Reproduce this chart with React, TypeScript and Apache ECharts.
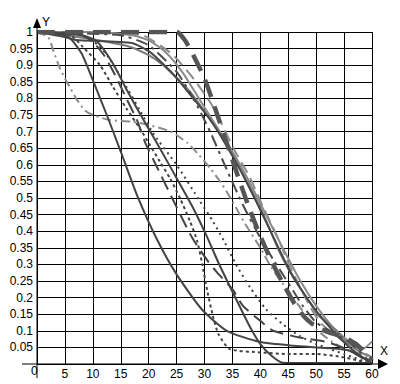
import React, { useEffect, useRef } from "react";
import * as echarts from "echarts";

type P = [number, number];

const xTicks = [0, 5, 10, 15, 20, 25, 30, 35, 40, 45, 50, 55, 60];

const thickDash: P[] = [[0,1],[10,1],[20,1],[25,1],[26.5,0.975],[28,0.93],[30,0.86],[32,0.765],[34,0.665],[36,0.565],[38,0.47],[40,0.385],[42,0.31],[44,0.245],[46,0.185],[48,0.14],[50,0.112],[52,0.097],[55,0.08],[57,0.062],[59,0.03],[60,0.01]];
const solidA: P[] = [[0,1],[4,0.995],[6,0.98],[8,0.935],[10,0.855],[12.5,0.75],[15,0.64],[18,0.505],[21.5,0.375],[25,0.27],[29.5,0.165],[34,0.1],[40,0.066],[46,0.055],[52,0.048],[56,0.04],[60,0.003]];
const solidD: P[] = [[0,1],[8,0.99],[10.7,0.972],[13.6,0.905],[16.1,0.825],[18.4,0.755],[20.8,0.685],[24,0.59],[27.8,0.475],[30.4,0.385],[32.5,0.305],[34.5,0.235],[36.4,0.17],[38.2,0.11],[40,0.06],[42,0.025],[44,0.004],[50,0.003],[60,0.003]];
const dottedF: P[] = [[0,1],[6,0.99],[8.2,0.955],[11.3,0.9],[13.6,0.835],[16,0.77],[18.4,0.71],[20.2,0.66],[22,0.61],[23.8,0.56],[25.6,0.5],[27.4,0.43],[28.7,0.37],[29.6,0.3],[30.5,0.22],[31.5,0.145],[32.5,0.09],[34.5,0.045],[40,0.035],[45,0.03],[50,0.03],[55,0.02],[60,0]];
const dottedE: P[] = [[0,1],[8,0.99],[11,0.96],[13,0.92],[16,0.835],[18.4,0.765],[21,0.69],[25,0.6],[29.2,0.49],[31.5,0.43],[33.5,0.37],[35.8,0.295],[38.2,0.23],[41,0.165],[44,0.12],[47,0.085],[50,0.06],[55,0.03],[60,0]];
const longDashC: P[] = [[0,1],[8,0.99],[10,0.97],[12,0.93],[14,0.87],[16,0.8],[17.9,0.735],[19.3,0.67],[21.5,0.593],[24.2,0.5],[27.8,0.38],[30.6,0.31],[32.2,0.277],[35.1,0.223],[36.9,0.175],[40.5,0.123],[42.3,0.1],[47,0.08],[52,0.066],[56,0.04],[60,0]];
const solidUpper: P[] = [[0,1],[5,0.985],[7,0.976],[17,0.967],[20.2,0.94],[22.5,0.905],[25.1,0.86],[27.5,0.81],[30.4,0.75],[32.8,0.69],[36.4,0.584],[40,0.464],[42.6,0.373],[45,0.29],[47.5,0.22],[50,0.16],[53,0.1],[56,0.05],[60,0]];
const graySolid1: P[] = [[0,1],[5,0.99],[11,0.975],[16.7,0.955],[20,0.93],[22.6,0.9],[25.1,0.86],[27.4,0.82],[29.2,0.78],[31.5,0.725],[34,0.66],[37,0.57],[40,0.47],[41.7,0.405],[43.5,0.335],[45.9,0.26],[48.9,0.185],[50.2,0.15],[53.7,0.1],[55.5,0.065],[58,0.035],[60,0.02]];
const graySolid2: P[] = [[0,1],[10,1],[17,0.99],[20,0.975],[23,0.94],[26,0.88],[29,0.8],[32,0.72],[35,0.64],[38,0.55],[41,0.45],[44,0.35],[47,0.255],[50,0.175],[53,0.11],[55,0.08],[57,0.055],[58.5,0.047],[60,0.068]];
const grayLongDash: P[] = [[0,1],[10,1],[15,0.995],[19,0.99],[22.9,0.95],[24.7,0.925],[28,0.86],[31.5,0.775],[35.5,0.64],[38.2,0.56],[40.3,0.48],[43,0.385],[45,0.305],[47,0.235],[49,0.17],[51,0.12],[54,0.08],[57,0.05],[60,0.02]];
const grayDashDot: P[] = [[0,1],[2,0.985],[3,0.94],[4,0.895],[5,0.86],[6,0.83],[7,0.8],[8.5,0.765],[10,0.75],[13,0.735],[17,0.73],[20,0.72],[24,0.7],[27,0.665],[29,0.63],[31,0.59],[33,0.545],[35,0.49],[37,0.43],[40,0.35],[42,0.29],[45,0.22],[48,0.15],[50,0.105],[53,0.065],[56,0.04],[60,0.02]];
const darkDashDot: P[] = [[0,1],[15,0.99],[20,0.96],[25,0.88],[28,0.8],[31,0.7],[34,0.585],[37,0.475],[40,0.38],[42.3,0.315],[44.4,0.26],[45.9,0.22],[47.6,0.175],[50,0.125],[53,0.095],[56,0.065],[60,0]];

const LEFT = 37;
const TOP = 32;
const RIGHT = 28;
const BOTTOM = 20;

export default function App() {
  const ref = useRef<HTMLDivElement>(null);
  useEffect(() => {
    document.body.style.margin = "0";
    const chart = echarts.init(ref.current!, null, { renderer: "svg" });
    const font = "Liberation Sans, Arial, sans-serif";
    const mk = (data: P[], color: string, width: number, type: any, z = 2) => ({
      type: "line",
      data,
      showSymbol: false,
      smooth: 0.2,
      lineStyle: { color, width, type, cap: "butt" },
      z,
      silent: true,
    });
    const x0 = LEFT;
    const y0 = 384 - BOTTOM;
    const x1 = 400 - RIGHT;
    chart.setOption({
      animation: false,
      backgroundColor: "#fff",
      grid: { left: LEFT, top: TOP, right: RIGHT, bottom: BOTTOM, containLabel: false },
      xAxis: {
        type: "value",
        min: 0,
        max: 60,
        interval: 5,
        axisLine: { show: false },
        axisTick: { show: false },
        splitLine: { show: true, lineStyle: { color: "#000", width: 1 } },
        axisLabel: {
          color: "#000",
          fontFamily: font,
          fontSize: 12,
          margin: 4,
          formatter: (v: number) => (v === 0 ? "" : String(xTicks.find((t) => t === v) ?? v)),
        },
      },
      yAxis: {
        type: "value",
        min: 0,
        max: 1,
        interval: 0.05,
        axisLine: { show: false },
        axisTick: { show: false },
        splitLine: { show: true, lineStyle: { color: "#000", width: 1 } },
        axisLabel: {
          color: "#000",
          fontFamily: font,
          fontSize: 12,
          margin: 4,
          formatter: (v: number) => (v === 0 ? "" : String(+v.toFixed(2))),
        },
      },
      graphic: [
        { type: "line", shape: { x1: 22, y1: y0, x2: x1 + 8, y2: y0 }, style: { stroke: "#000", lineWidth: 1 }, z: 100 },
        { type: "line", shape: { x1: x0, y1: 378, x2: x0, y2: 26 }, style: { stroke: "#000", lineWidth: 1 }, z: 100 },
        { type: "polygon", shape: { points: [[x1 + 6, y0 - 5], [x1 + 16, y0], [x1 + 6, y0 + 5]] }, style: { fill: "#000" }, z: 100 },
        { type: "polygon", shape: { points: [[x0 - 4, 28], [x0, 18], [x0 + 4, 28]] }, style: { fill: "#000" }, z: 100 },
        { type: "text", x: x0 + 5, y: 16, style: { text: "Y", fill: "#000", font: `12px ${font}` }, z: 100 },
        { type: "text", x: x1 + 8, y: y0 - 19, style: { text: "X", fill: "#000", font: `12px ${font}` }, z: 100 },
        { type: "text", x: x0 - 6, y: y0 + 1, style: { text: "0", fill: "#000", font: `12px ${font}` }, z: 100 },
      ],
      series: [
        mk(grayDashDot, "#8c8c8c", 2, [9, 4, 2, 4]),
        mk(graySolid2, "#8a8a8a", 2, "solid"),
        mk(graySolid1, "#7a7a7a", 2, "solid"),
        mk(grayLongDash, "#8c8c8c", 2, [12, 6]),
        mk(solidUpper, "#474747", 2, "solid"),
        mk(darkDashDot, "#4a4a4a", 2, [12, 5, 3, 5]),
        mk(solidA, "#444", 2, "solid"),
        mk(solidD, "#444", 2, "solid"),
        mk(longDashC, "#444", 2, [14, 7]),
        mk(dottedF, "#444", 2, [3, 3]),
        mk(dottedE, "#444", 2, [2, 4]),
        mk(thickDash, "#555", 4.5, [18, 10], 5),
      ],
    });
    return () => chart.dispose();
  }, []);
  return <div ref={ref} style={{ width: 400, height: 384 }} />;
}
